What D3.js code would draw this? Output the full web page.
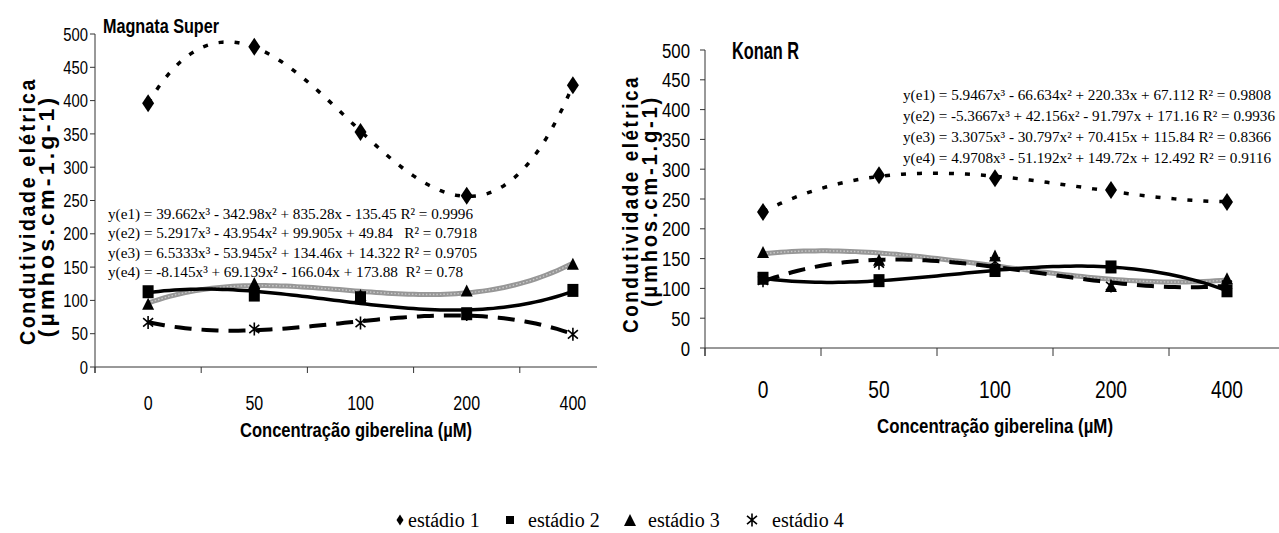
<!DOCTYPE html>
<html lang="pt">
<head>
<meta charset="UTF-8">
<title>Condutividade elétrica - Magnata Super / Konan R</title>
<script src="https://cdn.jsdelivr.net/npm/d3@7/dist/d3.min.js"></script>
<style>
  body { margin: 0; background: #fff; }
  svg { display: block; }
  .sans { font-family: "Liberation Sans", Arial, sans-serif; fill: #000; }
  .serif { font-family: "Liberation Serif", "Times New Roman", serif; fill: #000; }
</style>
</head>
<body>
<svg id="chart" width="1279" height="533"></svg>
<script>
// concentração de giberelina (categorias do eixo x)
const categories = ["0", "50", "100", "200", "400"];
const yTicks = [0, 50, 100, 150, 200, 250, 300, 350, 400, 450, 500];
const stageNames = ["estádio 1", "estádio 2", "estádio 3", "estádio 4"];

// Magnata Super
const magnataE1 = [396, 481, 353, 257, 423];
const magnataE2 = [113, 108, 104, 80, 115];
const magnataE3 = [95, 126, 108, 115, 155];
const magnataE4 = [67, 57, 66, 79, 49];
const magnataEquations = [
  "y(e1) = 39.662x³ - 342.98x² + 835.28x - 135.45 R² = 0.9996",
  "y(e2) = 5.2917x³ - 43.954x² + 99.905x + 49.84   R² = 0.7918",
  "y(e3) = 6.5333x³ - 53.945x² + 134.46x + 14.322 R² = 0.9705",
  "y(e4) = -8.145x³ + 69.139x² - 166.04x + 173.88  R² = 0.78"
];

// Konan R
const konanE1 = [228, 290, 285, 265, 245];
const konanE2 = [117, 113, 130, 136, 96];
const konanE3 = [161, 148, 155, 104, 117];
const konanE4 = [113, 142, 145, 104, 106];
const konanEquations = [
  "y(e1) = 5.9467x³ - 66.634x² + 220.33x + 67.112 R² = 0.9808",
  "y(e2) = -5.3667x³ + 42.156x² - 91.797x + 171.16 R² = 0.9936",
  "y(e3) = 3.3075x³ - 30.797x² + 70.415x + 115.84 R² = 0.8366",
  "y(e4) = 4.9708x³ - 51.192x² + 149.72x + 12.492 R² = 0.9116"
];

const svg = d3.select("#chart");
const NARROW = 0.8; // imita Arial Narrow

// ajuste polinomial de 3a ordem (linha de tendência do Excel, x = 1..5)
function fitCubic(vals) {
  const n = 4;
  const A = Array.from({ length: n }, () => new Array(n).fill(0));
  const b = new Array(n).fill(0);
  vals.forEach((v, k) => {
    const x = k + 1;
    for (let i = 0; i < n; i++) {
      b[i] += v * Math.pow(x, i);
      for (let j = 0; j < n; j++) A[i][j] += Math.pow(x, i + j);
    }
  });
  for (let c = 0; c < n; c++) {
    let p = c;
    for (let r = c + 1; r < n; r++) if (Math.abs(A[r][c]) > Math.abs(A[p][c])) p = r;
    [A[c], A[p]] = [A[p], A[c]];
    [b[c], b[p]] = [b[p], b[c]];
    for (let r = c + 1; r < n; r++) {
      const f = A[r][c] / A[c][c];
      for (let k = c; k < n; k++) A[r][k] -= f * A[c][k];
      b[r] -= f * b[c];
    }
  }
  const coef = new Array(n).fill(0);
  for (let r = n - 1; r >= 0; r--) {
    let s = b[r];
    for (let k = r + 1; k < n; k++) s -= A[r][k] * coef[k];
    coef[r] = s / A[r][r];
  }
  return x => coef[0] + coef[1] * x + coef[2] * x * x + coef[3] * x * x * x;
}

// marcadores
const markers = {
  diamond: (g, w, h) => g.append("path").attr("d", `M0,${-h / 2}L${w / 2},0L0,${h / 2}L${-w / 2},0Z`).attr("fill", "#000"),
  square: (g, w, h) => g.append("rect").attr("x", -w / 2).attr("y", -h / 2).attr("width", w).attr("height", h).attr("fill", "#000"),
  triangle: (g, w, h) => g.append("path").attr("d", `M0,${-h / 2}L${w / 2},${h / 2}L${-w / 2},${h / 2}Z`).attr("fill", "#000"),
  star: (g, w, h) => {
    const a = 50 * Math.PI / 180;
    const dx = (h / 2) * Math.sin(a), dy = (h / 2) * Math.cos(a);
    g.append("path")
      .attr("d", `M0,${-h / 2}V${h / 2}M${-dx},${-dy}L${dx},${dy}M${dx},${-dy}L${-dx},${dy}`)
      .attr("stroke", "#000").attr("stroke-width", 1.6).attr("fill", "none");
  }
};

function drawPanel(cfg) {
  const g = svg.append("g");
  const x = d3.scaleBand().domain(categories).range([cfg.left, cfg.right]);
  const y = d3.scaleLinear().domain([0, 500]).range([cfg.bottom, cfg.top]);
  const cx = c => x(c) + x.bandwidth() / 2;
  const xi = d3.scaleLinear().domain([1, 5]).range([cx(categories[0]), cx(categories[4])]);

  // eixos
  g.append("line").attr("x1", cfg.left).attr("x2", cfg.axisEnd)
    .attr("y1", y(0)).attr("y2", y(0)).attr("stroke", "#333");
  g.append("line").attr("x1", cfg.left).attr("x2", cfg.left)
    .attr("y1", y(500)).attr("y2", y(0) + cfg.xTick).attr("stroke", "#333");
  g.selectAll(".xtick").data(categories).join("line")
    .attr("x1", d => x(d)).attr("x2", d => x(d))
    .attr("y1", y(0)).attr("y2", y(0) + cfg.xTick).attr("stroke", "#333");
  g.selectAll(".ytick").data(yTicks).join("line")
    .attr("x1", cfg.left - 5).attr("x2", cfg.left)
    .attr("y1", d => y(d)).attr("y2", d => y(d)).attr("stroke", "#333");

  g.selectAll(".ylab").data(yTicks).join("text")
    .attr("class", "sans").attr("text-anchor", "end")
    .attr("transform", d => `translate(${cfg.yLabelX},${y(d)}) scale(${NARROW},1)`)
    .attr("dy", "0.36em")
    .attr("font-size", cfg.yTickFont).text(d => d);
  g.selectAll(".xlab").data(categories).join("text")
    .attr("class", "sans").attr("text-anchor", "middle")
    .attr("transform", d => `translate(${cx(d)},${cfg.xLabelY}) scale(${NARROW},1)`)
    .attr("font-size", cfg.xTickFont).text(d => d);

  // títulos
  g.append("text").attr("class", "sans").attr("font-weight", "bold")
    .attr("x", cfg.titleX).attr("y", cfg.titleY).attr("font-size", cfg.titleFont)
    .attr("textLength", cfg.titleLen).attr("lengthAdjust", "spacingAndGlyphs")
    .text(cfg.title);
  g.append("text").attr("class", "sans").attr("font-weight", "bold")
    .attr("x", cfg.xTitleX).attr("y", cfg.xTitleY).attr("font-size", cfg.xTitleFont)
    .attr("textLength", cfg.xTitleLen).attr("lengthAdjust", "spacingAndGlyphs")
    .text("Concentração giberelina (µM)");
  const yt = [
    { t: "Condutividade elétrica", x: cfg.yTitle1X, c: cfg.yTitle1C, len: cfg.yTitle1Len },
    { t: "(µmhos.cm-1.g-1)", x: cfg.yTitle2X, c: cfg.yTitle2C, len: cfg.yTitle2Len }
  ];
  yt.forEach(d => {
    g.append("text").attr("class", "sans").attr("font-weight", "bold")
      .attr("font-size", cfg.yTitleFont).attr("text-anchor", "middle")
      .attr("letter-spacing", 3)
      .attr("transform", `translate(${d.x},${d.c}) rotate(-90)`)
      .attr("textLength", d.len).attr("lengthAdjust", "spacingAndGlyphs")
      .text(d.t);
  });

  // linhas de tendência
  const samples = d3.range(1, 5.0001, 0.05);
  const line = d3.line().x(t => xi(t[0])).y(t => y(t[1]));
  const styles = [
    { stroke: "#000", width: 3.5, dash: "5,11" },
    { stroke: "#000", width: 3.5, dash: null },
    { stroke: "#979797", width: 5, dash: null },
    { stroke: "#000", width: 4, dash: "17,10" }
  ];
  const order = [2, 1, 3, 0];
  order.forEach(i => {
    const f = fitCubic(cfg.series[i]);
    const p = g.append("path").datum(samples.map(t => [t, f(t)]))
      .attr("d", line).attr("fill", "none")
      .attr("stroke", styles[i].stroke).attr("stroke-width", styles[i].width);
    if (styles[i].dash) p.attr("stroke-dasharray", styles[i].dash);
    if (i === 2) {
      g.append("path").datum(samples.map(t => [t, f(t)]))
        .attr("d", line).attr("fill", "none")
        .attr("stroke", "#c9c9c9").attr("stroke-width", 1.4).attr("stroke-dasharray", "1.5,2");
    }
  });

  // pontos
  const mk = [["diamond", 12, 18], ["square", 11, 13], ["triangle", 12, 12], ["star", 12, 13]];
  [3, 2, 1, 0].forEach(i => {
    cfg.series[i].forEach((v, k) => {
      const m = g.append("g").attr("transform", `translate(${cx(categories[k])},${y(v)})`);
      markers[mk[i][0]](m, mk[i][1], mk[i][2]);
    });
  });

  // equações
  g.selectAll(".eq").data(cfg.equations).join("text")
    .attr("class", "serif").style("white-space", "pre")
    .attr("x", cfg.eqX).attr("y", (d, i) => cfg.eqY + i * cfg.eqStep)
    .attr("font-size", cfg.eqFont)
    .attr("textLength", (d, i) => cfg.eqLen[i]).attr("lengthAdjust", "spacingAndGlyphs")
    .text(d => d);
}

drawPanel({
  left: 95, right: 626, axisEnd: 597, top: 34, bottom: 367, xTick: 6,
  yLabelX: 88, yTickFont: 18.5, xLabelY: 410, xTickFont: 20,
  title: "Magnata Super", titleX: 103, titleY: 33, titleFont: 20, titleLen: 116,
  xTitleX: 240, xTitleY: 437, xTitleFont: 21, xTitleLen: 232,
  yTitleFont: 22, yTitle1X: 35, yTitle1C: 211, yTitle1Len: 268,
  yTitle2X: 54, yTitle2C: 216, yTitle2Len: 243,
  series: [magnataE1, magnataE2, magnataE3, magnataE4],
  equations: magnataEquations, eqX: 108, eqY: 219, eqStep: 19.3, eqFont: 15.2,
  eqLen: [365, 369, 369, 355]
});

drawPanel({
  left: 705, right: 1285, axisEnd: 1279, top: 50, bottom: 348, xTick: 8,
  yLabelX: 690, yTickFont: 21, xLabelY: 398, xTickFont: 24,
  title: "Konan R", titleX: 732, titleY: 59, titleFont: 23, titleLen: 67,
  xTitleX: 877, xTitleY: 433, xTitleFont: 21, xTitleLen: 236,
  yTitleFont: 22, yTitle1X: 638, yTitle1C: 204, yTitle1Len: 258,
  yTitle2X: 657, yTitle2C: 201, yTitle2Len: 212,
  series: [konanE1, konanE2, konanE3, konanE4],
  equations: konanEquations, eqX: 903, eqY: 100, eqStep: 21, eqFont: 15,
  eqLen: [368, 372, 368, 368]
});

// legenda
const legendX = [400, 510, 630, 752];
const legendTextX = [408, 528, 648, 772];
const legendShapes = [["diamond", 7, 11], ["square", 8, 8], ["triangle", 12, 12], ["star", 12, 13]];
stageNames.forEach((name, i) => {
  const m = svg.append("g").attr("transform", `translate(${legendX[i]},${520})`);
  markers[legendShapes[i][0]](m, legendShapes[i][1], legendShapes[i][2]);
  svg.append("text").attr("class", "serif").attr("x", legendTextX[i]).attr("y", 527)
    .attr("font-size", 20).text(name);
});
</script>
</body>
</html>
